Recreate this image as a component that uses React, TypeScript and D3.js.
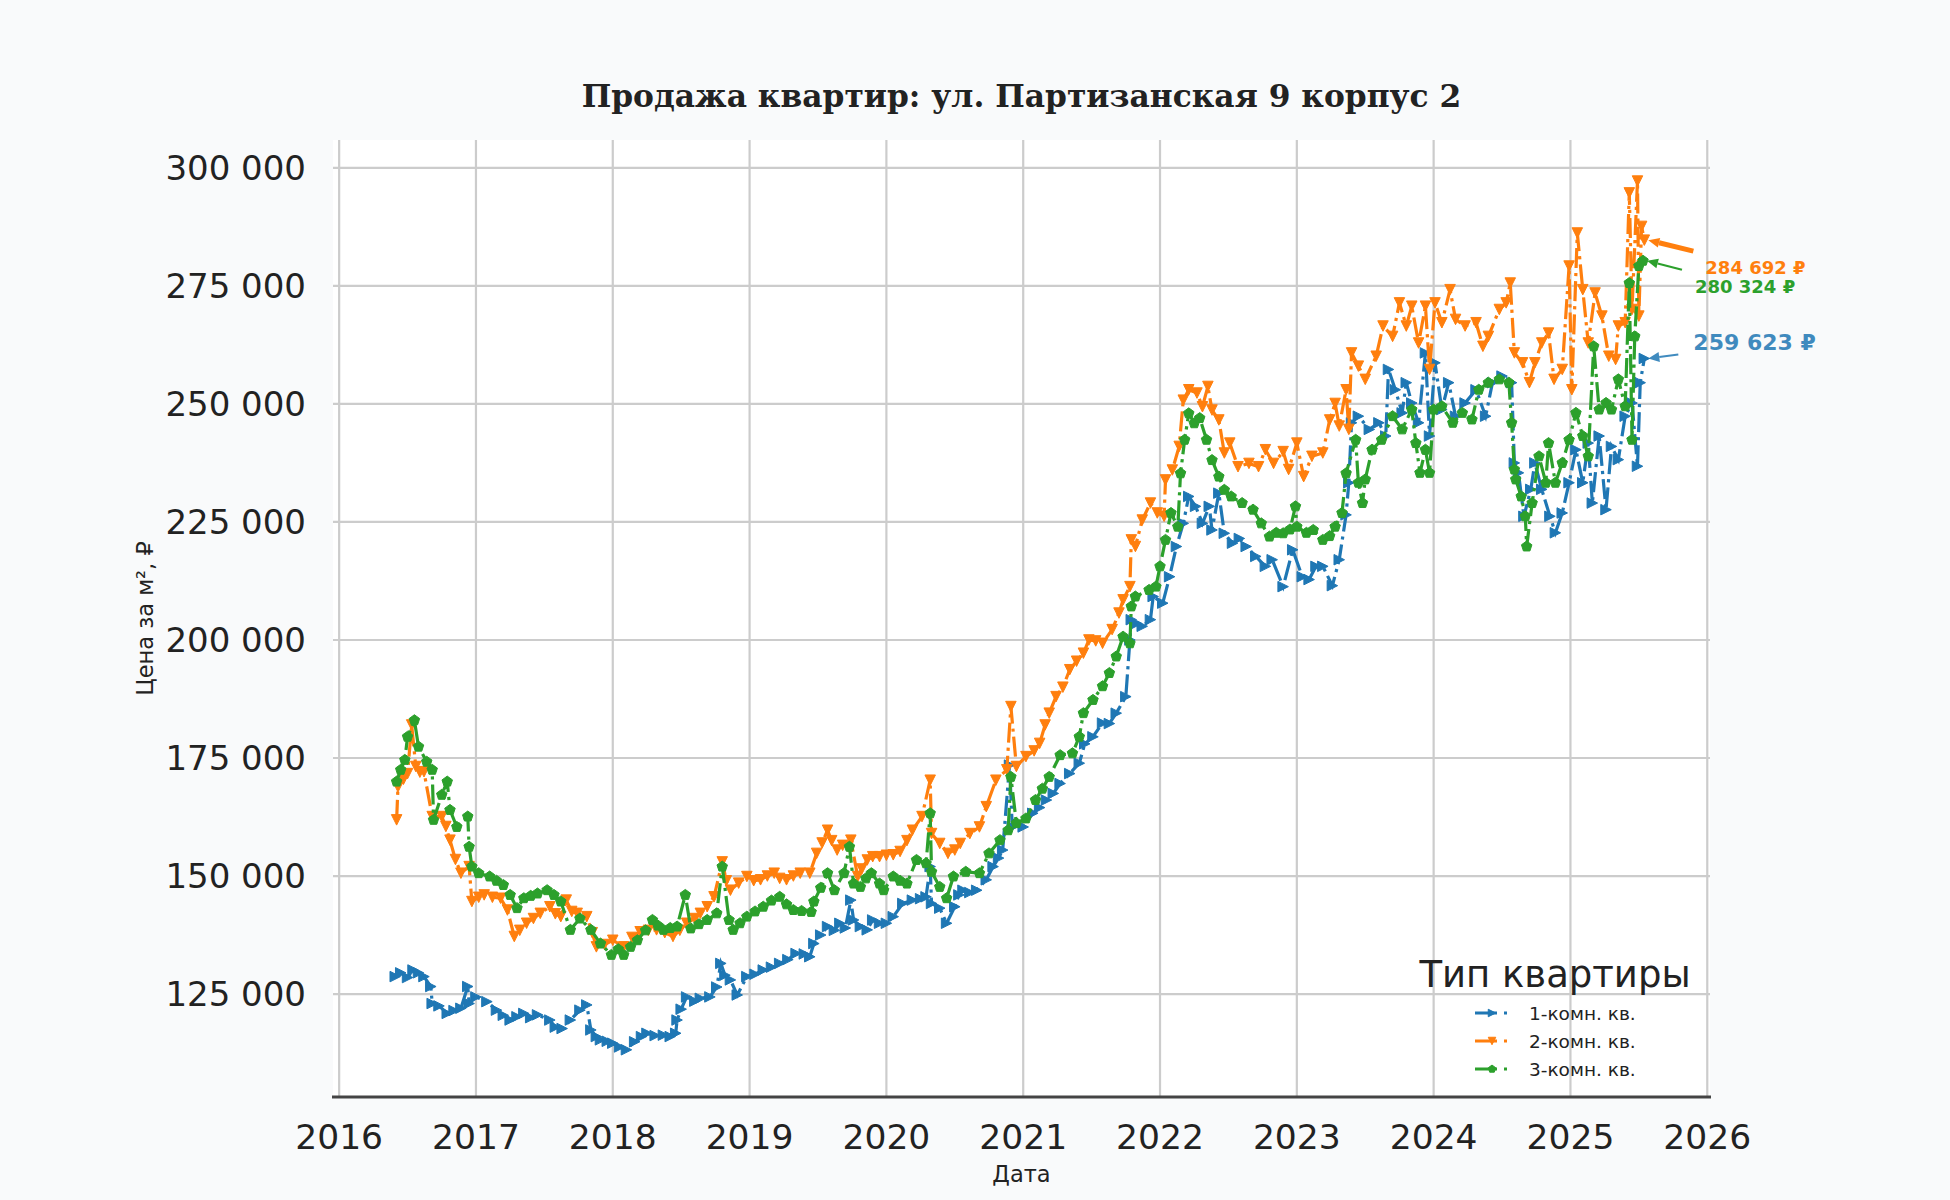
import { scaleLinear, line, formatLocale } from "d3";

// ---- data ----
const years1 = [
  2016.41, 2016.45, 2016.5, 2016.54, 2016.58, 2016.62, 2016.67, 2016.68, 2016.73, 2016.79, 2016.84, 2016.89, 2016.94, 2016.95,
  2017.0, 2017.08, 2017.15, 2017.2, 2017.25, 2017.3, 2017.35, 2017.4, 2017.45, 2017.54, 2017.58, 2017.63, 2017.69, 2017.76,
  2017.81, 2017.84, 2017.88, 2017.91, 2017.96, 2018.0, 2018.05, 2018.1, 2018.16, 2018.21, 2018.25, 2018.31, 2018.37, 2018.42,
  2018.46, 2018.47, 2018.5, 2018.54, 2018.6, 2018.64, 2018.71, 2018.76, 2018.79, 2018.82, 2018.86, 2018.91, 2018.98, 2019.04,
  2019.1, 2019.16, 2019.22, 2019.28, 2019.34, 2019.4, 2019.44, 2019.47, 2019.52, 2019.57, 2019.62, 2019.66, 2019.7, 2019.74,
  2019.76, 2019.81, 2019.86, 2019.9, 2019.95, 2020.0, 2020.05, 2020.12, 2020.19, 2020.25, 2020.29, 2020.32, 2020.33, 2020.39,
  2020.44, 2020.5, 2020.53, 2020.56, 2020.61, 2020.66, 2020.73, 2020.78, 2020.82, 2020.85, 2020.9, 2020.92, 2020.96, 2021.0,
  2021.07, 2021.12, 2021.17, 2021.22, 2021.27, 2021.34, 2021.41, 2021.45, 2021.51, 2021.58, 2021.63, 2021.68, 2021.75, 2021.78,
  2021.79, 2021.83, 2021.87, 2021.93, 2021.95, 2022.02, 2022.07, 2022.12, 2022.17, 2022.21, 2022.26, 2022.31, 2022.36, 2022.38,
  2022.43, 2022.47, 2022.53, 2022.58, 2022.63, 2022.7, 2022.77, 2022.82, 2022.9, 2022.97, 2023.04, 2023.09, 2023.14, 2023.19,
  2023.26, 2023.31, 2023.36, 2023.38, 2023.4, 2023.45, 2023.53, 2023.6, 2023.65, 2023.67, 2023.72, 2023.77, 2023.8, 2023.84,
  2023.89, 2023.94, 2023.97, 2024.01, 2024.06, 2024.11, 2024.16, 2024.23, 2024.31, 2024.38, 2024.43, 2024.5, 2024.57, 2024.59,
  2024.62, 2024.66, 2024.71, 2024.74, 2024.79, 2024.85, 2024.89, 2024.94, 2024.99, 2025.04, 2025.09, 2025.13, 2025.16, 2025.21,
  2025.26, 2025.3, 2025.35, 2025.4, 2025.45, 2025.49, 2025.51, 2025.54,
];
const prices1 = [
  128700, 129500, 128500, 130100, 129500, 128700, 126600, 123000, 122500, 120900, 121500, 122000, 126600, 123000,
  124400, 123400, 121600, 120500, 119500, 120200, 120900, 120000, 120600, 119500, 118000, 117700, 119500, 121600,
  122700, 117400, 116000, 115300, 115000, 114600, 113800, 113200, 114900, 116000, 116700, 116200, 116300, 116000,
  116700, 119500, 121800, 124400, 123500, 124100, 124400, 126500, 131500, 129000, 128000, 124800, 128700, 129200,
  130100, 130700, 131500, 132300, 133600, 133500, 132900, 135700, 137500, 139300, 138500, 140000, 139000, 144900,
  140700, 139300, 138600, 140700, 140000, 140000, 141400, 144200, 144900, 145200, 145600, 152000, 144200, 143200,
  140000, 143500, 146000, 147000, 146500, 147000, 149200, 152000, 153800, 155500, 173500, 160400, 161000, 160400,
  163300, 164500, 166100, 167500, 169600, 171700, 173900, 178000, 179500, 182400, 182300, 184500, 188000, 200000,
  204300, 203500, 202900, 204300, 209200, 207800, 213400, 219800, 224700, 230400, 228300, 224700, 228300, 223300,
  231100, 222600, 220500, 221500, 219800, 217700, 215600, 217000, 211300, 219100, 213400, 212800, 215600, 215600,
  211500, 217000, 226500, 233300, 246000, 247400, 244600, 246000, 243200, 257300, 253000, 248100, 254500, 250200,
  246000, 260800, 243200, 258700, 248800, 254500, 247400, 250200, 253000, 247400, 254500, 255900, 254500, 237500,
  235400, 226200, 231900, 237500, 231900, 226200, 222700, 226900, 233300, 240300, 233300, 241700, 229000, 243200,
  227600, 241000, 238200, 247400, 250200, 236800, 254500, 259623,
];

const years2 = [
  2016.42, 2016.43, 2016.47, 2016.5, 2016.53, 2016.56, 2016.59, 2016.62, 2016.68, 2016.75, 2016.78, 2016.81, 2016.85, 2016.89,
  2016.95, 2016.97, 2017.02, 2017.06, 2017.12, 2017.18, 2017.23, 2017.28, 2017.32, 2017.37, 2017.42, 2017.47, 2017.54, 2017.58,
  2017.62, 2017.66, 2017.7, 2017.74, 2017.81, 2017.85, 2017.88, 2017.94, 2018.0, 2018.08, 2018.14, 2018.2, 2018.26, 2018.32,
  2018.38, 2018.44, 2018.49, 2018.54, 2018.6, 2018.64, 2018.69, 2018.74, 2018.8, 2018.83, 2018.86, 2018.92, 2018.98, 2019.03,
  2019.08, 2019.13, 2019.18, 2019.22, 2019.27, 2019.32, 2019.37, 2019.44, 2019.49, 2019.53, 2019.57, 2019.6, 2019.64, 2019.68,
  2019.72, 2019.74, 2019.79, 2019.82, 2019.86, 2019.9, 2019.95, 2020.0, 2020.05, 2020.1, 2020.15, 2020.19, 2020.26, 2020.32,
  2020.33, 2020.39, 2020.45, 2020.5, 2020.54, 2020.61, 2020.68, 2020.73, 2020.8, 2020.88, 2020.91, 2020.95, 2021.02, 2021.08,
  2021.12, 2021.16, 2021.19, 2021.24, 2021.29, 2021.34, 2021.39, 2021.44, 2021.48, 2021.53, 2021.58, 2021.65, 2021.7, 2021.73,
  2021.78, 2021.79, 2021.82, 2021.87, 2021.93, 2021.98, 2022.03, 2022.04, 2022.09, 2022.14, 2022.17, 2022.21, 2022.27, 2022.31,
  2022.35, 2022.38, 2022.43, 2022.47, 2022.51, 2022.57, 2022.65, 2022.72, 2022.77, 2022.83, 2022.9, 2022.94, 2023.0, 2023.05,
  2023.11, 2023.19, 2023.24, 2023.28, 2023.31, 2023.36, 2023.38, 2023.4, 2023.45, 2023.5, 2023.58, 2023.63, 2023.7, 2023.75,
  2023.8, 2023.84, 2023.89, 2023.94, 2023.97, 2024.01, 2024.06, 2024.12, 2024.16, 2024.23, 2024.31, 2024.36, 2024.4, 2024.48,
  2024.53, 2024.56, 2024.59, 2024.65, 2024.7, 2024.74, 2024.79, 2024.84, 2024.88, 2024.94, 2024.99, 2025.01, 2025.05, 2025.09,
  2025.13, 2025.18, 2025.23, 2025.28, 2025.33, 2025.35, 2025.4, 2025.43, 2025.45, 2025.49, 2025.5, 2025.52, 2025.54,
];
const prices2 = [
  161900, 168900, 170500, 171700, 182000, 173200, 172000, 172100, 162600, 162600, 160500, 157600, 153500, 150600,
  152000, 144600, 145500, 146000, 145500, 145300, 142800, 137200, 138500, 140000, 141000, 142100, 143500, 142000,
  141400, 144900, 142500, 142100, 141400, 138000, 135000, 135500, 136400, 135000, 137000, 138200, 138500, 138600,
  138000, 137200, 138500, 140000, 141000, 142100, 143500, 145600, 153000, 149000, 147000, 148500, 149900, 149000,
  149200, 150000, 150600, 149500, 149200, 150000, 150600, 150600, 154800, 157000, 159700, 157500, 155500, 156500,
  156200, 157600, 149900, 151500, 153400, 154100, 154100, 154400, 154500, 155200, 157500, 159700, 162600, 170300,
  159000, 156900, 154800, 155500, 156900, 159000, 160400, 164700, 170300, 172500, 185900, 173200, 175300, 176500,
  178100, 182000, 184500, 188000, 190000, 193700, 195500, 197200, 200000, 199800, 199300, 202200, 205700, 208500,
  211300, 221200, 219800, 225400, 229000, 226900, 226200, 233900, 236000, 241000, 250800, 253000, 252300, 249400,
  253700, 248700, 246600, 239600, 241700, 236700, 237400, 236700, 240300, 237400, 239900, 236100, 241700, 234600,
  238900, 239600, 246600, 250100, 245300, 253000, 244600, 260800, 258000, 255200, 260100, 266500, 264300, 271400,
  266500, 270700, 262900, 270700, 257300, 271400, 267200, 274200, 267900, 266500, 267200, 262200, 264300, 270000,
  271400, 275600, 260800, 258700, 254500, 258700, 262900, 265000, 255200, 257300, 279200, 253000, 286200, 274200,
  262900, 273500, 268600, 260100, 259400, 266500, 267200, 294700, 270000, 297200, 268600, 287600, 284692,
];

const years3 = [
  2016.42, 2016.45, 2016.48, 2016.5, 2016.55, 2016.58, 2016.64, 2016.68, 2016.69, 2016.75, 2016.79, 2016.81, 2016.86, 2016.94,
  2016.95, 2016.97, 2017.02, 2017.1, 2017.15, 2017.2, 2017.25, 2017.3, 2017.35, 2017.4, 2017.45, 2017.52, 2017.57, 2017.62,
  2017.69, 2017.76, 2017.84, 2017.91, 2017.99, 2018.04, 2018.08, 2018.13, 2018.18, 2018.24, 2018.29, 2018.33, 2018.37, 2018.42,
  2018.47, 2018.53, 2018.57, 2018.63, 2018.69, 2018.76, 2018.8, 2018.85, 2018.88, 2018.93, 2018.98, 2019.04, 2019.1, 2019.16,
  2019.22, 2019.27, 2019.32, 2019.38, 2019.45, 2019.47, 2019.52, 2019.57, 2019.62, 2019.69, 2019.73, 2019.76, 2019.81, 2019.85,
  2019.89, 2019.95, 2019.98, 2020.05, 2020.1, 2020.15, 2020.22, 2020.29, 2020.32, 2020.33, 2020.39, 2020.44, 2020.49, 2020.58,
  2020.68, 2020.75, 2020.83, 2020.89, 2020.91, 2020.95, 2021.02, 2021.09, 2021.14, 2021.19, 2021.27, 2021.36, 2021.41, 2021.44,
  2021.51, 2021.58, 2021.63, 2021.68, 2021.73, 2021.78, 2021.79, 2021.82, 2021.92, 2021.97, 2022.0, 2022.04, 2022.08, 2022.13,
  2022.15, 2022.18, 2022.21, 2022.25, 2022.29, 2022.34, 2022.38, 2022.43, 2022.47, 2022.52, 2022.6, 2022.68, 2022.74, 2022.8,
  2022.85, 2022.9, 2022.95, 2022.99, 2023.0, 2023.07, 2023.12, 2023.19, 2023.24, 2023.28, 2023.33, 2023.36, 2023.43, 2023.45,
  2023.48, 2023.5, 2023.55, 2023.62, 2023.7, 2023.77, 2023.84, 2023.87, 2023.9, 2023.94, 2023.97, 2024.0, 2024.06, 2024.14,
  2024.21, 2024.28, 2024.33, 2024.4, 2024.48, 2024.55, 2024.57, 2024.59, 2024.6, 2024.64, 2024.67, 2024.68, 2024.72, 2024.77,
  2024.82, 2024.84, 2024.89, 2024.94, 2024.99, 2025.04, 2025.09, 2025.13, 2025.17, 2025.21, 2025.26, 2025.3, 2025.35, 2025.4,
  2025.43, 2025.45, 2025.47, 2025.5, 2025.53,
];
const prices3 = [
  170000, 172500, 174600, 179500, 183000, 177400, 174200, 172500, 161900, 167200, 170000, 164000, 160400, 162600,
  156200, 152000, 150600, 149900, 149000, 148100, 146000, 143200, 145300, 145800, 146300, 147000, 146000, 144600,
  138600, 141000, 138600, 135700, 133300, 134500, 133300, 135000, 136400, 138500, 140700, 139500, 138600, 139000,
  139300, 146000, 138900, 139800, 140700, 142100, 152000, 140700, 138600, 140000, 141400, 142500, 143500, 144800,
  145600, 144000, 142800, 142600, 142400, 144600, 147500, 150600, 147000, 150600, 156200, 148400, 147700, 149500,
  150600, 148400, 147000, 149900, 149000, 148400, 153400, 152700, 163300, 150900, 147700, 145300, 149900, 150900,
  150600, 154800, 157600, 159700, 171000, 161200, 162200, 166100, 168500, 171000, 175600, 176000, 179500, 184500,
  187300, 190200, 193000, 196500, 200700, 199300, 207100, 209200, 210600, 211300, 215600, 221200, 226900, 224000,
  235300, 242400, 248000, 245900, 247000, 242400, 238100, 234600, 231800, 230400, 229000, 227600, 224700, 221900,
  222700, 222600, 223400, 228300, 224000, 222700, 223300, 221200, 222000, 224000, 226900, 235300, 242400, 233300,
  229000, 234000, 240300, 242400, 247400, 244600, 248800, 241700, 235400, 240300, 235400, 248800, 249500, 246000,
  248100, 246700, 253000, 254500, 255200, 254500, 246000, 236100, 234000, 230400, 226200, 219800, 229000, 238900,
  233300, 241700, 233300, 237500, 242400, 248100, 243200, 238900, 262200, 248800, 250200, 248800, 255200, 249500,
  275600, 242400, 264300, 279200, 280324,
];

const seriesNames = ["1-комн. кв.", "2-комн. кв.", "3-комн. кв."];
const seriesColors = ["#1f77b4", "#ff7f0e", "#2ca02c"];
const xTicks = [2016, 2017, 2018, 2019, 2020, 2021, 2022, 2023, 2024, 2025, 2026];
const yTicks = [125000, 150000, 175000, 200000, 225000, 250000, 275000, 300000];

// ---- layout ----
const W = 1950;
const H = 1200;
const left = 333;
const right = 1710;
const top = 140;
const bottom = 1097;

const x = scaleLinear().domain([2015.955, 2026.02]).range([left, right]);
const y = scaleLinear().domain([103200, 305900]).range([bottom, top]);

const ru = formatLocale({ decimal: ",", thousands: " ", grouping: [3], currency: ["", " ₽"] });
const fmt = ru.format(",.0f");

type Marker = "right" | "down" | "pent";

function markerPath(kind: Marker, cx: number, cy: number, s: number) {
  const h = s / 2;
  if (kind === "right") return `M${cx + h},${cy}L${cx - h},${cy - h}L${cx - h},${cy + h}Z`;
  if (kind === "down") return `M${cx},${cy + h}L${cx - h},${cy - h}L${cx + h},${cy - h}Z`;
  let d = "";
  for (let k = 0; k < 5; k++) {
    const a = (-90 + 72 * k) * (Math.PI / 180);
    d += (k ? "L" : "M") + (cx + h * 1.05 * Math.cos(a)).toFixed(2) + "," + (cy + h * 1.05 * Math.sin(a)).toFixed(2);
  }
  return d + "Z";
}

const series = [
  { name: seriesNames[0], years: years1, prices: prices1, color: seriesColors[0], marker: "right" as Marker },
  { name: seriesNames[1], years: years2, prices: prices2, color: seriesColors[1], marker: "down" as Marker },
  { name: seriesNames[2], years: years3, prices: prices3, color: seriesColors[2], marker: "pent" as Marker },
];

// arrow tail and label offsets from the last point of each series
const notes = [
  { idx: 0, dx: 30, dy: -4, tx: 45, ty: -16, size: 22, width: 2.2 },
  { idx: 1, dx: 45, dy: 11, tx: 57, ty: 27, size: 18, width: 5 },
  { idx: 2, dx: 35, dy: 9, tx: 48, ty: 26, size: 18, width: 2.2 },
];

export default function App() {
  return (
    <div>
      <style>{`body{margin:0}`}</style>
      <svg width={W} height={H} style={{ display: "block", fontFamily: "DejaVu Sans" }}>
        <rect width={W} height={H} fill="#f9fafb" />
        <rect x={left} y={top} width={right - left} height={bottom - top} fill="#ffffff" />

        {/* grid */}
        {xTicks.map((t) => (
          <line key={"gx" + t} x1={x(t)} x2={x(t)} y1={top} y2={bottom} stroke="#cccccc" strokeWidth={2.2} />
        ))}
        {yTicks.map((t) => (
          <line key={"gy" + t} x1={left} x2={right} y1={y(t)} y2={y(t)} stroke="#cccccc" strokeWidth={2.2} />
        ))}

        {/* series */}
        {series.map((s) => {
          const pts = s.years.map((yr, i) => [x(yr), y(s.prices[i])] as [number, number]);
          const d = line<[number, number]>()(pts) || "";
          return (
            <g key={s.name}>
              <path d={d} fill="none" stroke={s.color} strokeWidth={3.2} strokeDasharray="20,5,3.2,5" />
              {pts.map((p, i) => (
                <path key={i} d={markerPath(s.marker, p[0], p[1], 10.5)} fill={s.color} stroke={s.color} strokeWidth={1} />
              ))}
            </g>
          );
        })}

        {/* last value annotations */}
        {notes.map((n) => {
          const s = series[n.idx];
          const last = s.years.length - 1;
          const px = x(s.years[last]) + 4;
          const py = y(s.prices[last]);
          const tailX = px + n.dx;
          const tailY = py + n.dy;
          const ang = Math.atan2(py - tailY, px - tailX);
          const hl = 11;
          const hw = 5;
          const bx = px - hl * Math.cos(ang);
          const by = py - hl * Math.sin(ang);
          const nx = -Math.sin(ang);
          const ny = Math.cos(ang);
          return (
            <g key={"n" + n.idx} opacity={n.idx === 0 ? 0.85 : 1}>
              <line x1={tailX} y1={tailY} x2={bx} y2={by} stroke={s.color} strokeWidth={n.width} />
              <path
                d={`M${px},${py}L${bx + nx * hw},${by + ny * hw}L${bx - nx * hw},${by - ny * hw}Z`}
                fill={s.color}
              />
              <text
                x={px + n.tx}
                y={py + n.ty}
                fill={s.color}
                fontSize={n.size}
                fontWeight="bold"
                dominantBaseline="central"
              >
                {fmt(s.prices[last]) + " ₽"}
              </text>
            </g>
          );
        })}

        {/* bottom spine */}
        <line x1={left - 1} x2={right + 1} y1={bottom} y2={bottom} stroke="#444444" strokeWidth={3} />

        {/* axes labels */}
        {yTicks.map((t) => (
          <text key={"ty" + t} x={306} y={y(t)} textAnchor="end" dominantBaseline="central" fontSize={34} fill="#222">
            {fmt(t)}
          </text>
        ))}
        {xTicks.map((t) => (
          <text key={"tx" + t} x={x(t)} y={1137} textAnchor="middle" dominantBaseline="central" fontSize={34.5} fill="#222">
            {t}
          </text>
        ))}
        <text x={(left + right) / 2} y={1174} textAnchor="middle" dominantBaseline="central" fontSize={22.5} fill="#222">
          Дата
        </text>
        <text
          transform={`translate(145,${(top + bottom) / 2}) rotate(-90)`}
          textAnchor="middle"
          dominantBaseline="central"
          fontSize={22.5}
          fill="#222"
        >
          Цена за м², ₽
        </text>

        {/* title */}
        <text
          x={(left + right) / 2}
          y={96}
          textAnchor="middle"
          dominantBaseline="central"
          fontFamily="DejaVu Serif"
          fontWeight="bold"
          fontSize={31.3}
          fill="#222"
        >
          Продажа квартир: ул. Партизанская 9 корпус 2
        </text>

        {/* legend */}
        <text x={1555} y={974} textAnchor="middle" dominantBaseline="central" fontSize={37} fill="#222">
          Тип квартиры
        </text>
        {series.map((s, i) => {
          const ly = 1013 + i * 28;
          return (
            <g key={"lg" + i}>
              <line x1={1475} x2={1510} y1={ly} y2={ly} stroke={s.color} strokeWidth={3} strokeDasharray="22,7,3,7" />
              <path d={markerPath(s.marker, 1492, ly, 7.5)} fill={s.color} stroke={s.color} strokeWidth={1} />
              <text x={1529} y={ly} dominantBaseline="central" fontSize={18.5} fill="#222">
                {s.name}
              </text>
            </g>
          );
        })}
      </svg>
    </div>
  );
}
